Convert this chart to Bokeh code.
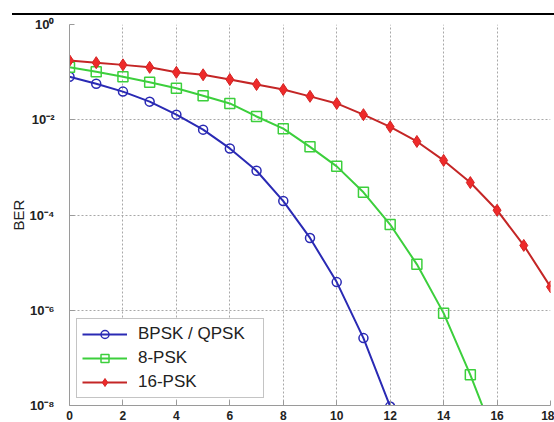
from bokeh.plotting import figure
from bokeh.models import Div, FixedTicker, CustomJSTickFormatter, Range1d, Legend, LegendItem
from bokeh.layouts import column
from bokeh.embed import file_html
from bokeh.resources import INLINE

# ---- data ----
ebn0_bpsk = [0, 1, 2, 3, 4, 5, 6, 7, 8, 9, 10, 11, 12]
ber_bpsk = [0.080, 0.057, 0.039, 0.024, 0.0128, 0.0062, 0.0025, 8.5e-4,
            1.96e-4, 3.3e-5, 3.9e-6, 2.6e-7, 9.5e-9]

ebn0_8psk = [0, 1, 2, 3, 4, 5, 6, 7, 8, 9, 10, 11, 12, 13, 14, 15, 16]
ber_8psk = [0.126, 0.102, 0.080, 0.061, 0.046, 0.032, 0.022, 0.0117,
            0.0065, 0.0027, 0.00105, 3.0e-4, 6.3e-5, 9.2e-6, 8.7e-7,
            4.4e-8, 1.6e-9]

ebn0_16psk = [0, 1, 2, 3, 4, 5, 6, 7, 8, 9, 10, 11, 12, 13, 14, 15, 16, 17, 18]
ber_16psk = [0.175, 0.158, 0.142, 0.126, 0.099, 0.088, 0.070, 0.055,
             0.043, 0.031, 0.022, 0.0128, 0.0071, 0.0035, 0.0014,
             4.8e-4, 1.26e-4, 2.3e-5, 3.1e-6]

series_names = ["BPSK / QPSK", "8-PSK", "16-PSK"]
x_ticks = [0, 2, 4, 6, 8, 10, 12, 14, 16, 18]
y_ticks = [1e-8, 1e-6, 1e-4, 1e-2, 1.0]
y_tick_labels = ["10\u207b\u2078", "10\u207b\u2076", "10\u207b\u2074", "10\u207b\u00b2", "10\u2070"]
y_label = "BER"

# ---- figure ----
p = figure(width=554, height=407, x_range=Range1d(0, 18),
           y_range=Range1d(1e-8, 1.0), y_axis_type="log",
           output_backend="svg", toolbar_location=None,
           min_border_left=69, min_border_right=4, min_border_top=9,
           min_border_bottom=5)
p.outline_line_color = None
p.background_fill_color = "white"
p.border_fill_color = "white"

# axes
p.xaxis.ticker = FixedTicker(ticks=x_ticks, minor_ticks=[])
p.yaxis.ticker = FixedTicker(ticks=y_ticks, minor_ticks=[])
p.yaxis.formatter = CustomJSTickFormatter(
    args=dict(vals=y_ticks, labs=y_tick_labels),
    code="""
    let best = 0, bd = 1e9;
    for (let i = 0; i < vals.length; i++) {
        const d = Math.abs(Math.log10(vals[i]) - Math.log10(tick));
        if (d < bd) { bd = d; best = i; }
    }
    return labs[best];
    """)
p.yaxis.axis_label = y_label
for ax in (p.xaxis[0], p.yaxis[0]):
    ax.axis_line_color = "#9a9a9a"
    ax.major_tick_line_color = "#9a9a9a"
    ax.major_tick_in = 5
    ax.major_tick_out = 0
    ax.minor_tick_line_color = None
    ax.major_label_text_font = "Liberation Sans"
    ax.major_label_text_font_style = "bold"
    ax.major_label_text_font_size = "12px"
    ax.major_label_text_color = "#222222"
p.yaxis.major_label_text_font_size = "13px"
p.xaxis.major_label_standoff = 5
p.yaxis.major_label_standoff = 15
p.yaxis.axis_label_standoff = 0
p.yaxis.axis_label_text_font = "Liberation Sans"
p.yaxis.axis_label_text_font_style = "normal"
p.yaxis.axis_label_text_font_size = "15px"
p.yaxis.axis_label_text_color = "#222222"

# grid
for g in (p.xgrid[0], p.ygrid[0]):
    g.grid_line_color = "#a8a8a8"
    g.grid_line_dash = "2 2"
    g.grid_line_width = 1

# series
blue, green, red = "#2a2ab4", "#3ccf3c", "#d42424"
l1 = p.line(ebn0_bpsk, ber_bpsk, line_color=blue, line_width=2)
m1 = p.scatter(ebn0_bpsk, ber_bpsk, marker="circle", size=9,
               line_color=blue, line_width=1.5, fill_color=None)
l2 = p.line(ebn0_8psk, ber_8psk, line_color=green, line_width=2)
m2 = p.scatter(ebn0_8psk, ber_8psk, marker="square", size=10,
               line_color=green, line_width=1.5, fill_color=None)
l3 = p.line(ebn0_16psk, ber_16psk, line_color="#c42626", line_width=2)
m3 = p.scatter(ebn0_16psk, ber_16psk, marker="diamond", size=12,
               line_color=red, line_width=1, fill_color="#ee2a2a")

legend = Legend(items=[
    LegendItem(label=series_names[0], renderers=[l1, m1]),
    LegendItem(label=series_names[1], renderers=[l2, m2]),
    LegendItem(label=series_names[2], renderers=[l3, m3]),
], location=(7, 7))
legend.label_text_font = "Liberation Sans"
legend.label_text_font_size = "17px"
legend.label_text_color = "#222222"
legend.glyph_width = 45
legend.glyph_height = 20
legend.label_height = 20
legend.label_width = 120
legend.label_standoff = 11
legend.spacing = 4
legend.padding = 5
legend.margin = 0
legend.border_line_color = "#8a8a8a"
legend.border_line_width = 1
legend.background_fill_color = "white"
legend.background_fill_alpha = 1.0
p.add_layout(legend, "center")

top_rule = Div(text="", width=542, height=2, margin=(13, 0, 0, 12),
               styles={"background-color": "black"})

layout = column(top_rule, p, spacing=0, margin=0)

open("out.html", "w").write(file_html(layout, INLINE))
